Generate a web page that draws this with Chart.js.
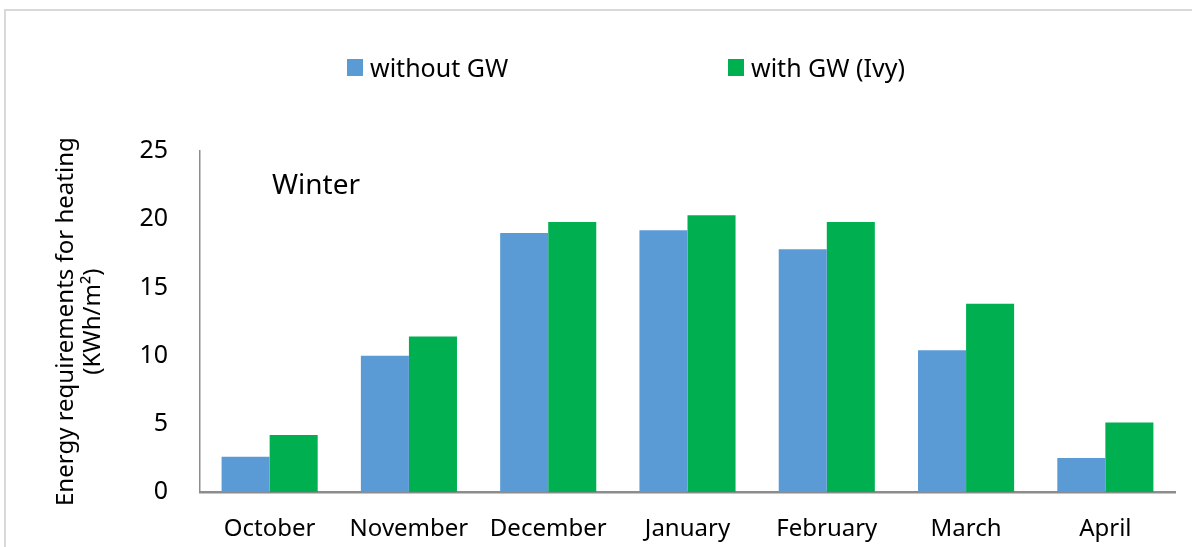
<!DOCTYPE html>
<html>
<head>
<meta charset="utf-8">
<script src="https://cdn.jsdelivr.net/npm/chart.js@4.4.1/dist/chart.umd.min.js"></script>
<style>
  body { margin: 0; background: #fff; font-family: "Noto Sans", sans-serif; }
  #wrap { position: relative; width: 1192px; height: 547px; overflow: hidden; }
  #frame { position: absolute; left: 4px; top: 9px; width: 1300px; height: 700px; border: 2px solid #d9d9d9; box-sizing: border-box; }
  #chart { position: absolute; left: 0; top: 0; }
  .leg { position: absolute; top: 50px; font-size: 25px; color: #000; display: flex; align-items: center; white-space: nowrap; }
  .leg span.box { display: inline-block; width: 16px; height: 17px; margin-right: 7px; }
</style>
</head>
<body>
<div id="wrap">
  <div id="frame"></div>
  <canvas id="chart" width="1192" height="547"></canvas>
  <div id="legend"></div>
</div>
<script>
const months = ["October", "November", "December", "January", "February", "March", "April"];
const withoutGW = [2.6, 10.0, 19.0, 19.2, 17.8, 10.4, 2.5];
const withGWIvy = [4.2, 11.4, 19.8, 20.3, 19.8, 13.8, 5.1];
const yTicks = [0, 5, 10, 15, 20, 25];

const seriesNames = ["without GW", "with GW (Ivy)"];
const seriesColors = ["#5b9bd5", "#00b050"];
const legendLeft = [347, 728];

// html legend, spaced like the original
const legend = document.getElementById('legend');
seriesNames.forEach((name, i) => {
    const item = document.createElement('div');
    item.className = 'leg';
    item.style.left = legendLeft[i] + 'px';
    item.innerHTML = '<span class="box" style="background:' + seriesColors[i] + '"></span>' + name;
    legend.appendChild(item);
});

const winterLabel = {
    id: 'winterLabel',
    afterDraw(chart) {
        const ctx = chart.ctx;
        const area = chart.chartArea;
        ctx.save();
        ctx.font = '28px "Noto Sans"';
        ctx.fillStyle = '#000';
        ctx.textBaseline = 'middle';
        ctx.fillText('Winter', area.left + 72, area.top + 35);
        ctx.restore();
    }
};

const ctx = document.getElementById('chart').getContext('2d');

new Chart(ctx, {
    type: 'bar',
    data: {
        labels: months,
        datasets: [{
            label: seriesNames[0],
            data: withoutGW,
            backgroundColor: seriesColors[0]
        }, {
            label: seriesNames[1],
            data: withGWIvy,
            backgroundColor: seriesColors[1]
        }]
    },
    options: {
        responsive: false,
        animation: false,
        categoryPercentage: 0.69,
        barPercentage: 1.0,
        layout: { padding: { left: 53, right: 17, top: 151, bottom: -20 } },
        plugins: {
            legend: { display: false },
            tooltip: { enabled: false }
        },
        scales: {
            x: {
                grid: { display: false, drawTicks: false },
                border: { color: '#8c8c8c', width: 2.5 },
                ticks: { color: '#000', font: { family: 'Noto Sans', size: 24 }, padding: 23 }
            },
            y: {
                min: 0,
                max: 25,
                afterBuildTicks: scale => { scale.ticks = yTicks.map(v => ({ value: v })); },
                afterFit: scale => { scale.width = 200 - 53; },
                grid: { display: false, drawTicks: false },
                border: { color: '#8c8c8c', width: 1.5 },
                ticks: { color: '#000', font: { family: 'Noto Sans', size: 25 }, padding: 32 },
                title: {
                    display: true,
                    text: ['Energy requirements for heating', '(KWh/m\u00b2)'],
                    color: '#000',
                    font: { family: 'Noto Sans', size: 24, lineHeight: 1.12 },
                    padding: 0
                }
            }
        }
    },
    plugins: [winterLabel]
});
</script>
</body>
</html>
